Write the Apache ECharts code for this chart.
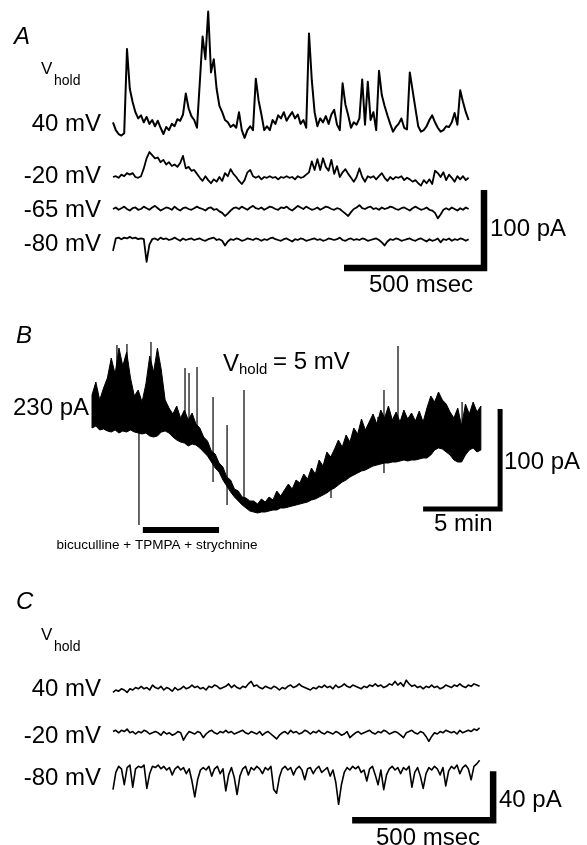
<!DOCTYPE html>
<html><head><meta charset="utf-8">
<script src="https://cdn.jsdelivr.net/npm/echarts@6/dist/echarts.min.js"></script>
<style>html,body{margin:0;padding:0;background:#fff}#c{width:587px;height:845px}</style>
</head><body><div id="c"></div>
<script>
// ---------------- DATA ----------------
// Panel A: membrane currents (pA, relative to holding), sampled every 10 ms
const dtA = 10;
const labelsA = ['40 mV', '-20 mV', '-65 mV', '-80 mV'];
const traceA_40 = [6,-4,-9,-11,-8,100,49,32,19,11,
15,6,13,4,9,1,8,-1,-9,0,
-4,4,1,10,8,16,43,24,14,9,
-1,57,116,87,148,70,87,49,27,19,
9,6,0,3,-1,19,-4,-14,-4,1,
-4,62,34,16,-4,1,-4,9,4,15,
11,19,8,14,19,11,16,4,9,-1,
120,60,19,1,11,6,14,4,16,22,
3,-4,56,29,15,-1,6,3,11,61,
3,58,9,19,-4,72,41,27,15,4,
-6,0,4,11,-1,-3,70,47,24,1,
-6,-4,1,9,15,6,-1,-6,-4,1,
0,6,18,3,47,32,19,9];
const traceA_m20 = [0,1,-1,3,1,5,3,5,0,-1,
1,11,24,32,28,24,25,19,22,16,
19,14,16,13,18,27,11,13,8,9,
4,-1,-5,1,-4,-8,-3,-6,0,-5,
5,1,10,4,0,-5,-9,-4,6,9,
1,-1,1,-3,0,-1,1,-1,0,-3,
0,-1,1,-1,0,-3,1,-1,0,3,
6,20,9,23,9,24,13,8,22,4,
14,0,6,10,4,-1,-6,0,11,0,
-6,1,-1,1,-3,1,5,-1,-5,0,
-3,0,-1,1,-4,-1,-3,-6,-4,-8,
-11,-4,-8,-3,-9,8,5,0,6,-4,
3,-1,-6,1,-3,1,-4,-1];
const traceA_m65 = [0,2,-1,1,3,0,-2,1,2,-1,
0,3,1,-1,2,4,1,-2,0,2,
1,-1,3,0,-2,1,2,0,-1,1,
3,1,0,-2,1,2,-1,0,-3,-5,
-9,-6,-2,1,2,0,3,1,-1,2,
4,1,0,2,-1,1,3,2,0,-1,
2,1,3,0,-2,1,4,2,0,3,
1,-1,0,2,-1,1,3,2,0,-1,
1,0,-3,-6,-9,-4,0,2,5,1,
0,2,3,0,1,-1,2,0,1,3,
2,0,-1,1,2,0,-2,1,3,1,
-1,0,2,-1,-2,-5,-12,-7,-1,1,
-1,2,0,-2,1,-1,2,0];
const traceA_m80 = [-14,2,3,1,3,2,4,2,3,1,
2,1,-28,-6,1,2,0,3,1,2,
0,1,3,1,-1,2,0,1,2,0,
1,2,0,-1,1,2,3,0,1,-1,
-7,-2,1,0,2,1,-1,0,2,1,
0,2,1,-1,1,0,2,3,1,0,
-1,1,2,0,-2,1,0,2,1,-1,
0,1,2,0,1,-1,0,2,1,0,
1,3,0,-1,1,2,0,1,0,2,
1,-1,0,1,2,0,-3,-7,-2,1,
0,2,1,-1,0,1,2,0,-1,1,
2,0,-2,1,-1,0,2,-3,1,0,
2,-1,1,0,2,1,-1,1];
const scaleA = [500, 100]; // msec, pA

// Panel B: holding current (pA) envelope, sampled every 0.25 min
const dtB = 0.25;
const upperB = [245,258,240,252,262,282,266,292,274,288,
262,244,250,238,256,284,268,292,270,240,
232,226,234,222,230,220,227,216,212,203,
199,189,186,177,173,163,160,151,149,143,
142,139,139,136,141,138,143,140,149,144,
150,156,151,160,157,166,161,172,166,180,
174,188,183,191,200,193,205,198,212,206,
221,210,218,226,216,230,222,234,220,228,
218,230,221,227,219,229,218,232,244,238,
248,240,236,228,222,232,214,236,226,238,
228,234];
const lowerB = [212,214,210,211,209,208,210,207,209,208,
210,208,207,206,207,204,203,204,208,209,
207,203,200,198,197,194,196,195,192,188,
184,178,172,168,160,154,148,143,139,135,
132,129,128,127,128,128,129,130,130,132,
132,133,134,135,136,137,138,140,141,143,
145,147,150,152,155,158,160,163,165,167,
169,170,172,174,175,176,177,177,178,178,
179,180,179,180,180,181,182,182,185,190,
192,191,188,185,180,178,178,185,190,192,
188,190];
// brief transients: [time (min), low pA, high pA]
const spikesB = [[1.62,240,295],[2.27,240,296],[3.05,115,210],[3.83,240,298],
[6.04,215,272],[6.30,215,267],[6.82,210,273],[7.86,158,243],[8.77,135,215],
[9.87,142,250],[15.52,142,170],[18.57,200,223],[18.96,167,250],[19.87,220,294],
[22.14,200,240],[24.03,210,238]];
const drugB = [3.3, 8.25]; // min
const drugLabel = 'bicuculline + TPMPA + strychnine';
const scaleB = [5, 100]; // min, pA

// Panel C: currents (pA), sampled every 10 ms
const dtC = 10;
const labelsC = ['40 mV', '-20 mV', '-80 mV'];
const traceC_40 = [-2,0,-1,1,0,-2,1,0,2,1,
3,1,2,0,4,2,1,3,0,2,
1,-1,2,0,1,3,1,2,4,2,
3,1,2,0,3,2,4,3,1,2,
3,5,2,4,2,1,3,2,5,7,
3,4,2,1,3,2,1,3,2,0,
2,1,3,4,2,3,5,3,2,1,
0,2,1,3,2,4,2,3,1,4,
2,3,5,3,2,4,3,2,1,3,
2,4,3,5,3,4,2,3,5,4,
7,4,6,3,8,5,3,4,2,3,
1,3,2,4,2,3,1,2,4,3,
2,4,3,5,3,2,4,3,5,4,3];
const traceC_m20 = [2,3,1,3,2,4,1,2,0,2,
1,3,2,0,1,2,1,-1,2,0,
1,-1,0,2,1,-5,-1,2,1,0,
2,1,-3,0,2,3,1,0,2,1,
3,1,2,0,1,2,3,1,0,2,
1,0,2,-1,1,2,0,-2,-4,-1,
1,2,0,3,1,2,0,1,3,2,
0,2,1,3,1,0,2,1,0,2,
1,-1,0,2,-3,-1,1,2,0,1,
2,3,1,0,2,1,3,2,0,1,
2,1,-1,-3,1,2,3,1,0,2,
1,-2,-6,-2,1,0,2,1,3,2,
1,2,0,3,1,2,3,2,4,3,5];
const traceC_m80 = [-16,-2,3,1,-12,2,4,-14,1,3,
2,4,-15,-3,3,2,4,1,3,0,
2,-4,1,3,0,2,-3,1,-9,-22,
-8,0,2,0,3,-5,1,3,-3,1,
-17,-4,2,-6,-20,-5,1,3,-4,2,
0,3,1,-3,2,0,3,-16,-19,-6,
1,3,0,2,-4,1,3,0,-8,1,
2,-3,1,3,-2,0,2,-5,0,-10,
-28,-12,-2,2,0,3,1,3,-2,0,
-9,1,3,-4,-12,0,-16,-4,1,3,
0,2,-3,2,0,3,-14,-2,2,-5,
-15,-3,2,0,3,1,-4,2,-13,-1,
3,1,4,-3,2,4,1,-8,3,5,8];
const scaleC = [500, 40]; // msec, pA

// ---------------- CHART ----------------
const FONT = '"Liberation Sans", Arial, Helvetica, sans-serif';
const grids = [], xAxes = [], yAxes = [], series = [];
function addGrid(x0, y0, sx, sy, xmin, xmax, ymin, ymax) {
  const i = grids.length;
  grids.push({left: x0 + xmin * sx, top: y0 - ymax * sy, width: (xmax - xmin) * sx, height: (ymax - ymin) * sy});
  xAxes.push({gridIndex: i, type: 'value', min: xmin, max: xmax, show: false});
  yAxes.push({gridIndex: i, type: 'value', min: ymin, max: ymax, show: false});
  return i;
}
function line(gi, data, width, extra) {
  return Object.assign({type: 'line', xAxisIndex: gi, yAxisIndex: gi, data: data, symbol: 'none', showSymbol: false,
    clip: false, silent: true, animation: false, lineStyle: {color: '#000', width: width, join: 'round'}}, extra || {});
}
const toXY = (vals, dt) => vals.map((v, i) => [i * dt, v]);
function scaleBar(gi, t0, y0, dx, dy, w) {
  return line(gi, [[t0, y0], [t0 + dx, y0], [t0 + dx, y0 + dy]], w,
    {lineStyle: {color: '#000', width: w, join: 'miter', cap: 'butt'}});
}

// Panel A
const A = {x0: 113, sx: 0.28, sy: 0.78};
const rowsA = [
  {d: traceA_40, y0: 127, ymin: -30, ymax: 160, w: 2},
  {d: traceA_m20, y0: 177, ymin: -30, ymax: 50, w: 1.8},
  {d: traceA_m65, y0: 209, ymin: -20, ymax: 20, w: 1.8},
  {d: traceA_m80, y0: 240, ymin: -45, ymax: 70, w: 1.8}
];
let lastA;
rowsA.forEach(r => {
  const gi = addGrid(A.x0, r.y0, A.sx, A.sy, 0, 1400, r.ymin, r.ymax);
  series.push(line(gi, toXY(r.d, dtA), r.w));
  lastA = gi;
});
series.push(scaleBar(lastA, 825, -36, scaleA[0], scaleA[1], 6.5));

// Panel B
const gB = addGrid(92, 640, 15.4, 1.0, 0, 27, 100, 320);
series.push({type: 'custom', xAxisIndex: gB, yAxisIndex: gB,
  data: lowerB.map((lo, i) => [i * dtB, lo, upperB[i]]), encode: {x: 0, y: [1, 2]},
  silent: true, animation: false, clip: false,
  renderItem: (p, api) => {
    if (p.dataIndex !== 0) return null;
    const pts = [];
    for (let i = 0; i < upperB.length; i++) pts.push(api.coord([i * dtB, upperB[i]]));
    for (let i = lowerB.length - 1; i >= 0; i--) pts.push(api.coord([i * dtB, lowerB[i]]));
    return {type: 'polygon', shape: {points: pts}, style: {fill: '#000', stroke: '#000', lineWidth: 1, lineJoin: 'round'}};
  }});
series.push({type: 'custom', xAxisIndex: gB, yAxisIndex: gB, data: spikesB, encode: {x: 0, y: [1, 2]},
  silent: true, animation: false, clip: false,
  renderItem: (p, api) => {
    const a = api.coord([api.value(0), api.value(1)]);
    const b = api.coord([api.value(0), api.value(2)]);
    return {type: 'line', shape: {x1: a[0], y1: a[1], x2: b[0], y2: b[1]}, style: {stroke: '#000', lineWidth: 1.2}};
  }});
series.push(line(gB, [[drugB[0], 110], [drugB[1], 110]], 6, {lineStyle: {color: '#000', width: 6, cap: 'butt'}}));
series.push(scaleBar(gB, 21.5, 131, scaleB[0], scaleB[1], 5));

// Panel C
const C = {x0: 113, sx: 0.282, sy: 1.225};
const rowsC = [
  {d: traceC_40, y0: 690, ymin: -20, ymax: 20},
  {d: traceC_m20, y0: 734, ymin: -20, ymax: 20},
  {d: traceC_m80, y0: 770, ymin: -50, ymax: 20}
];
let lastC;
rowsC.forEach(r => {
  const gi = addGrid(C.x0, r.y0, C.sx, C.sy, 0, 1400, r.ymin, r.ymax);
  series.push(line(gi, toXY(r.d, dtC), 1.6));
  lastC = gi;
});
series.push(scaleBar(lastC, 848, -41, scaleC[0], scaleC[1], 6.5));

// Texts
function txt(text, x, y, size, align, italic) {
  return {type: 'text', x: x, y: y, silent: true,
    style: {text: text, fill: '#000', font: (italic ? 'italic ' : '') + size + 'px ' + FONT,
      align: align || 'left', verticalAlign: 'middle'}};
}
const labelYA = [124, 176, 210, 244];
const labelYC = [689, 736, 778];
const graphics = [
  txt('A', 14, 37, 24, 'left', true),
  txt('V', 41, 69, 17),
  txt('hold', 54, 81, 14),
  ...labelsA.map((l, i) => txt(l, 101, labelYA[i], 24, 'right')),
  txt(scaleA[1] + ' pA', 490, 229, 24),
  txt(scaleA[0] + ' msec', 369, 285, 24),
  txt('B', 16, 336, 24, 'left', true),
  txt('230 pA', 13, 408, 24),
  txt('V', 223, 364, 24),
  txt('hold', 239, 370, 15),
  txt('= 5 mV', 273, 362, 24),
  txt(scaleB[1] + ' pA', 504, 462, 24),
  txt(scaleB[0] + ' min', 434, 524, 24),
  txt(drugLabel, 157, 545, 13.5, 'center'),
  txt('C', 16, 602, 24, 'left', true),
  txt('V', 41, 635, 17),
  txt('hold', 54, 647, 14),
  ...labelsC.map((l, i) => txt(l, 101, labelYC[i], 24, 'right')),
  txt(scaleC[1] + ' pA', 499, 800, 24),
  txt(scaleC[0] + ' msec', 376, 838, 24)
];

const chart = echarts.init(document.getElementById('c'), null, {renderer: 'canvas'});
chart.setOption({
  animation: false,
  backgroundColor: '#fff',
  grid: grids, xAxis: xAxes, yAxis: yAxes, series: series, graphic: graphics
});
</script></body></html>
